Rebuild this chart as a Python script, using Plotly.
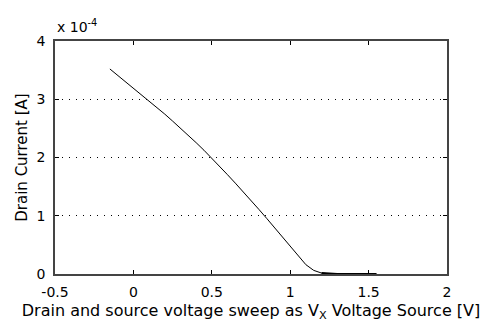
import plotly.graph_objects as go

vx = [-0.15, -0.10, -0.05, 0.00, 0.05, 0.10, 0.15, 0.20, 0.25, 0.30, 0.35, 0.40,
      0.45, 0.50, 0.55, 0.60, 0.65, 0.70, 0.75, 0.80, 0.85, 0.90, 0.95, 1.00,
      1.05, 1.10, 1.15, 1.20, 1.25, 1.30, 1.35, 1.40, 1.45, 1.50, 1.55]
id_e4 = [3.52, 3.41, 3.30, 3.195, 3.085, 2.975, 2.86, 2.745, 2.625, 2.505, 2.38, 2.255,
         2.125, 1.99, 1.85, 1.705, 1.56, 1.415, 1.265, 1.11, 0.955, 0.795, 0.63, 0.465,
         0.305, 0.16, 0.062, 0.016, 0.004, 0.0, 0.0, 0.0, 0.0, 0.0, 0.0]
drain_current = [v * 1e-4 for v in id_e4]

x_ticks = [-0.5, 0, 0.5, 1, 1.5, 2]
x_tick_labels = ["-0.5", "0", "0.5", "1", "1.5", "2"]
y_ticks = [0, 1e-4, 2e-4, 3e-4, 4e-4]
y_tick_labels = ["0", "1", "2", "3", "4"]

FONT = "DejaVu Sans, Verdana, sans-serif"

fig = go.Figure()
fig.add_trace(go.Scatter(x=vx, y=drain_current, mode="lines",
                         line=dict(color="black", width=1), showlegend=False))
flat_start = 27
fig.add_trace(go.Scatter(x=vx[flat_start:], y=drain_current[flat_start:], mode="lines",
                         line=dict(color="black", width=2.2), showlegend=False))

fig.update_layout(
    width=487, height=332,
    margin=dict(l=55, r=40, t=41, b=58),
    paper_bgcolor="white", plot_bgcolor="white",
    font=dict(family=FONT, size=14, color="black"),
    xaxis=dict(range=[-0.5, 2], tickvals=x_ticks, ticktext=x_tick_labels,
               ticks="inside", ticklen=4, tickcolor="black", tickwidth=1,
               showline=True, linecolor="#444", linewidth=1.5, mirror="ticks",
               showgrid=False, zeroline=False, ticklabelstandoff=4,
               tickfont=dict(family=FONT, size=14),
               title=dict(text="Drain and source voltage sweep as V<sub>X</sub> Voltage Source [V]",
                          font=dict(family=FONT, size=16), standoff=6)),
    yaxis=dict(range=[0, 4e-4], tickvals=y_ticks, ticktext=y_tick_labels,
               ticks="inside", ticklen=4, tickcolor="black", tickwidth=1,
               showline=True, linecolor="#444", linewidth=1.5, mirror="ticks",
               showgrid=True, gridcolor="black", griddash="1px,6px", gridwidth=1,
               zeroline=False, ticklabelstandoff=5,
               tickfont=dict(family=FONT, size=14),
               title=dict(text="Drain Current [A]", font=dict(family=FONT, size=15), standoff=5)),
    annotations=[dict(text="x 10<sup>-4</sup>", xref="paper", yref="paper",
                      x=0.0, y=1.0, xanchor="left", yanchor="bottom",
                      showarrow=False, font=dict(family=FONT, size=14), yshift=4)],
)

fig.write_html("out.html")
